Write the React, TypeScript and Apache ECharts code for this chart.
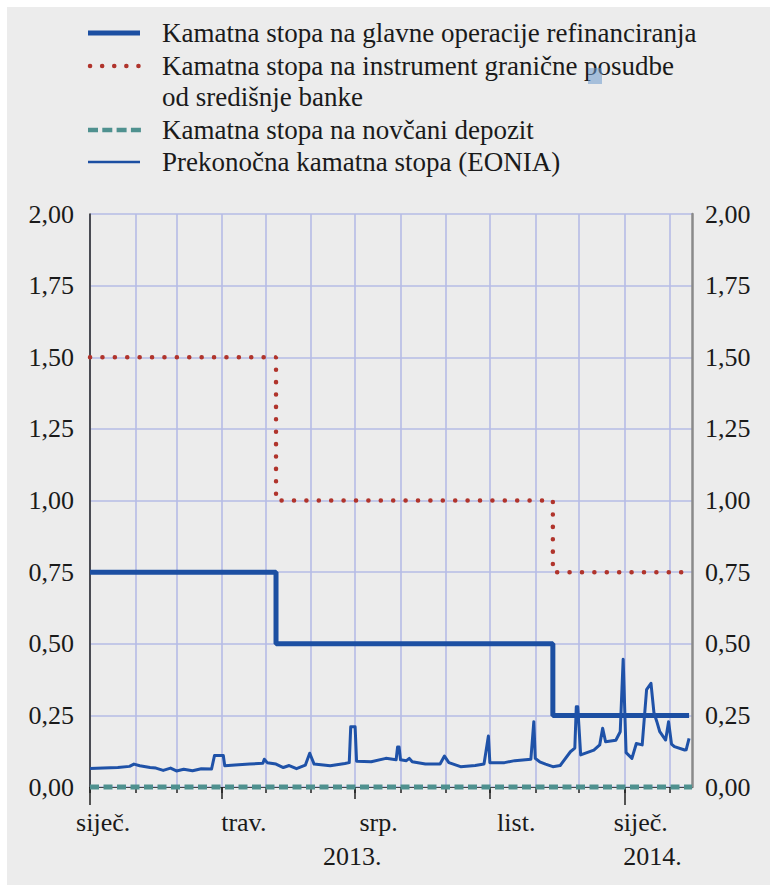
import React, { useEffect, useRef } from "react";
import * as echarts from "echarts";

const FONT = '"Liberation Serif", "Times New Roman", serif';

// ---- axis data ----
const xMin = "2013-01-01";
const xMax = "2014-02-16";
const monthTicks = [
  "2013-01-01", "2013-02-01", "2013-03-01", "2013-04-01", "2013-05-01", "2013-06-01", "2013-07-01",
  "2013-08-01", "2013-09-01", "2013-10-01", "2013-11-01", "2013-12-01", "2014-01-01", "2014-02-01",
];
const quarterTicks = ["2013-04-01", "2013-07-01", "2013-10-01"];
const yearTicks = ["2013-01-01", "2014-01-01"];
const monthLabelDates = ["2013-01-10", "2013-04-16", "2013-07-17", "2013-10-19", "2014-01-12"];
const monthLabels = ["siječ.", "trav.", "srp.", "list.", "siječ."];
const yearLabelDates = ["2013-06-29", "2014-01-20"];
const yearLabels = ["2013.", "2014."];

// ---- series data ----
const mroDates = ["2013-01-01", "2013-05-08", "2013-11-13", "2014-02-14"];
const mroValues = [0.75, 0.5, 0.25, 0.25];
const mlfDates = ["2013-01-01", "2013-05-08", "2013-11-13", "2014-02-14"];
const mlfValues = [1.5, 1.0, 0.75, 0.75];
const depositDates = ["2013-01-01", "2014-02-16"];
const depositValues = [0, 0];

const eoniaDates = [
  "2013-01-01", "2013-01-10", "2013-01-20", "2013-01-28", "2013-01-31", "2013-02-04", "2013-02-11",
  "2013-02-15", "2013-02-20", "2013-02-25", "2013-03-01", "2013-03-06", "2013-03-12", "2013-03-18",
  "2013-03-25", "2013-03-27", "2013-04-02", "2013-04-03", "2013-04-10", "2013-04-20", "2013-04-29",
  "2013-04-30", "2013-05-02", "2013-05-08", "2013-05-13", "2013-05-17", "2013-05-22", "2013-05-28",
  "2013-05-31", "2013-06-03", "2013-06-14", "2013-06-24", "2013-06-27", "2013-06-28", "2013-07-01",
  "2013-07-02", "2013-07-12", "2013-07-22", "2013-07-29", "2013-07-30", "2013-07-31", "2013-08-01",
  "2013-08-05", "2013-08-07", "2013-08-09", "2013-08-18", "2013-08-28", "2013-08-31", "2013-09-03",
  "2013-09-11", "2013-09-21", "2013-09-27", "2013-09-30", "2013-10-01", "2013-10-11", "2013-10-18",
  "2013-10-29", "2013-10-31", "2013-11-01", "2013-11-04", "2013-11-08", "2013-11-13", "2013-11-18",
  "2013-11-25", "2013-11-28", "2013-11-29", "2013-11-30", "2013-12-02", "2013-12-11", "2013-12-15",
  "2013-12-17", "2013-12-19", "2013-12-26", "2013-12-29", "2013-12-31", "2014-01-02", "2014-01-06",
  "2014-01-09", "2014-01-13", "2014-01-16", "2014-01-19", "2014-01-21", "2014-01-23", "2014-01-25",
  "2014-01-29", "2014-01-31", "2014-02-02", "2014-02-04", "2014-02-11", "2014-02-12", "2014-02-14",
];
const eoniaValues = [
  0.065, 0.066, 0.068, 0.072, 0.08, 0.074, 0.068,
  0.066, 0.058, 0.066, 0.056, 0.062, 0.057, 0.064,
  0.063, 0.11, 0.11, 0.074, 0.077, 0.08, 0.083,
  0.097, 0.085, 0.08, 0.068, 0.075, 0.064, 0.076,
  0.118, 0.08, 0.074, 0.082, 0.085, 0.21, 0.21,
  0.09, 0.088, 0.1, 0.095, 0.14, 0.14, 0.095,
  0.092, 0.1, 0.088, 0.08, 0.08, 0.108, 0.085,
  0.071, 0.075, 0.08, 0.178, 0.085, 0.085, 0.092,
  0.097, 0.228, 0.1, 0.088, 0.08, 0.071, 0.075,
  0.123, 0.136, 0.28, 0.28, 0.112, 0.129, 0.147,
  0.205, 0.158, 0.163, 0.193, 0.446, 0.12, 0.1,
  0.152, 0.147, 0.34, 0.362, 0.26, 0.228, 0.193,
  0.164, 0.228, 0.15, 0.141, 0.129, 0.13, 0.17,
];

const legendItems = [
  "Kamatna stopa na glavne operacije refinanciranja",
  "Kamatna stopa na instrument granične posudbe",
  "od središnje banke",
  "Kamatna stopa na novčani depozit",
  "Prekonočna kamatna stopa (EONIA)",
];

const ts = (s: string) => new Date(s + "T00:00:00Z").getTime();
const pairs = (d: string[], v: number[]) => d.map((s, i) => [ts(s), v[i]]);

const BLUE = "#1c4fa2";
const RED = "#b0342c";
const TEAL = "#4f918f";
const GRIDC = "#b6bce6";
const TXT = "#1a1a1a";

export default function App() {
  const ref = useRef<HTMLDivElement>(null);
  useEffect(() => {
    if (!ref.current) return;
    const chart = echarts.init(ref.current, undefined, { renderer: "svg" });
    const monthMap: Record<number, string> = {};
    monthLabelDates.forEach((d, i) => (monthMap[ts(d)] = monthLabels[i]));
    const yearMap: Record<number, string> = {};
    yearLabelDates.forEach((d, i) => (yearMap[ts(d)] = yearLabels[i]));
    const fmtY = (v: number) => v.toFixed(2).replace(".", ",");

    const baseX = {
      type: "value",
      min: ts(xMin),
      max: ts(xMax),
      position: "bottom",
      gridIndex: 0,
      splitLine: { show: false },
      axisLine: { show: false },
      axisPointer: { show: false },
    };

    const option: any = {
      animation: false,
      grid: { left: 90, right: 78, top: 214, bottom: 99, outerBoundsMode: "none", containLabel: false },
      xAxis: [
        {
          ...baseX,
          axisLine: { show: true, onZero: false, lineStyle: { color: "#444", width: 1 } },
          axisTick: { show: true, length: 6, customValues: monthTicks.map(ts), lineStyle: { color: "#222", width: 1.5 } },
          splitLine: { show: true, lineStyle: { color: GRIDC, width: 1.6 } },
          axisLabel: {
            show: true,
            customValues: monthLabelDates.map(ts),
            formatter: (v: number) => monthMap[v] ?? "",
            fontFamily: FONT,
            fontSize: 26,
            color: TXT,
            margin: 22,
          },
        },
        {
          ...baseX,
          axisTick: { show: true, length: 12, customValues: quarterTicks.map(ts), lineStyle: { color: "#222", width: 1.5 } },
          axisLabel: {
            show: true,
            customValues: yearLabelDates.map(ts),
            formatter: (v: number) => yearMap[v] ?? "",
            fontFamily: FONT,
            fontSize: 26,
            color: TXT,
            margin: 56,
          },
        },
        {
          ...baseX,
          axisTick: { show: true, length: 18, customValues: yearTicks.map(ts), lineStyle: { color: "#222", width: 1.5 } },
          axisLabel: { show: false },
        },
      ],
      yAxis: [
        {
          type: "value",
          min: 0,
          max: 2,
          interval: 0.25,
          position: "left",
          axisLine: { show: true, lineStyle: { color: "#222", width: 1.5 } },
          axisTick: { show: false },
          splitLine: { show: true, lineStyle: { color: GRIDC, width: 1.6 } },
          axisLabel: { formatter: fmtY, fontFamily: FONT, fontSize: 26, color: TXT, margin: 16 },
        },
        {
          type: "value",
          min: 0,
          max: 2,
          interval: 0.25,
          position: "right",
          axisLine: { show: true, lineStyle: { color: "#8a8a8a", width: 2.5 } },
          axisTick: { show: false },
          splitLine: { show: false },
          axisLabel: { formatter: fmtY, fontFamily: FONT, fontSize: 26, color: TXT, margin: 13 },
        },
      ],
      series: [
        {
          name: legendItems[3],
          type: "line",
          data: pairs(depositDates, depositValues),
          showSymbol: false,
          silent: true,
          clip: false,
          z: 10,
          lineStyle: { color: TEAL, width: 5, type: [9, 4.5], cap: "butt" },
        },
        {
          name: legendItems[1],
          type: "line",
          step: "end",
          data: pairs(mlfDates, mlfValues),
          showSymbol: false,
          silent: true,
          clip: false,
          z: 4,
          lineStyle: { color: RED, width: 4.5, type: [0.1, 12.3], cap: "round" },
        },
        {
          name: legendItems[0],
          type: "line",
          step: "end",
          data: pairs(mroDates, mroValues),
          showSymbol: false,
          silent: true,
          clip: false,
          z: 5,
          lineStyle: { color: BLUE, width: 5 },
        },
        {
          name: legendItems[4],
          type: "line",
          data: pairs(eoniaDates, eoniaValues),
          showSymbol: false,
          silent: true,
          clip: false,
          z: 6,
          lineStyle: { color: "#1f52a8", width: 3, join: "round" },
        },
      ],
      graphic: [
        { type: "line", shape: { x1: 88, y1: 33, x2: 140, y2: 33 }, style: { stroke: BLUE, lineWidth: 5 } },
        { type: "line", shape: { x1: 90, y1: 66, x2: 140, y2: 66 }, style: { stroke: RED, lineWidth: 4.5, lineDash: [0.1, 12], lineCap: "round" } },
        { type: "line", shape: { x1: 88, y1: 130, x2: 141, y2: 130 }, style: { stroke: TEAL, lineWidth: 4.5, lineDash: [10, 4.3] } },
        { type: "line", shape: { x1: 88, y1: 162, x2: 140, y2: 162 }, style: { stroke: BLUE, lineWidth: 2.5 } },
        ...[33, 66, 97, 130, 162].map((y, i) => ({
          type: "text",
          x: 162,
          y,
          style: { text: legendItems[i], fontFamily: FONT, fontSize: 27, fill: TXT, verticalAlign: "middle", align: "left" },
        })),
        { type: "rect", shape: { x: 588, y: 68, width: 14, height: 16 }, style: { fill: "rgba(110,155,205,0.55)" } },
      ],
    };
    try {
      chart.setOption(option);
    } catch (e) {
      console.error(e);
    }
    return () => chart.dispose();
  }, []);

  return (
    <div style={{ position: "absolute", left: 0, top: 0, width: 770, height: 886, background: "#ffffff" }}>
      <div style={{ position: "absolute", left: 7, top: 7, width: 763, height: 878, background: "#ececec" }} />
      <div ref={ref} style={{ position: "absolute", left: 0, top: 0, width: 770, height: 886 }} />
    </div>
  );
}
